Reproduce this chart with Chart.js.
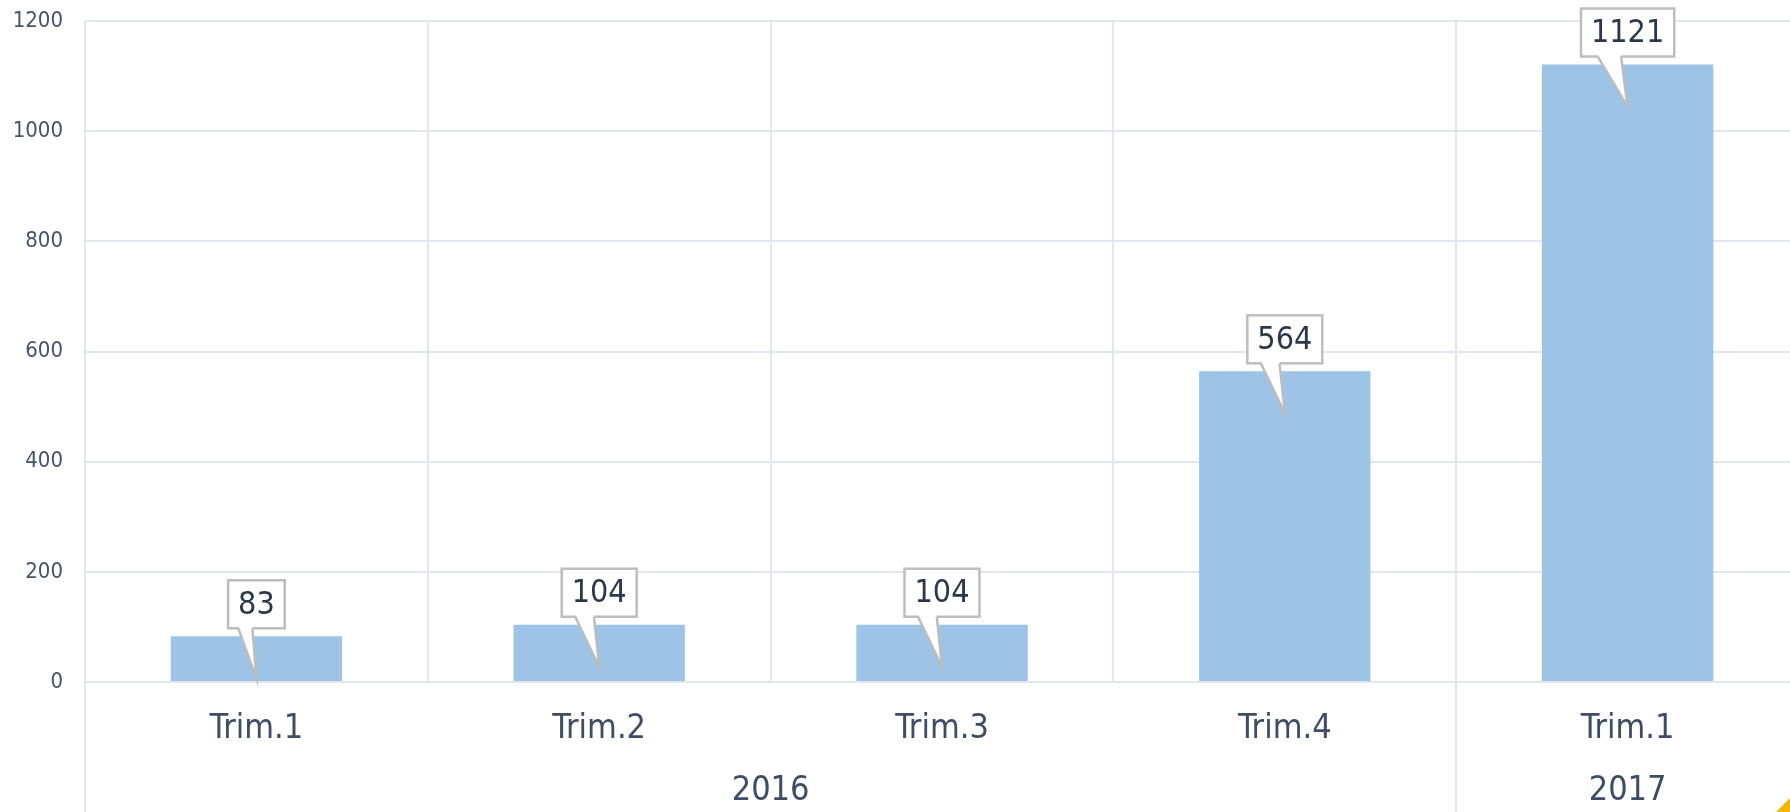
<!DOCTYPE html>
<html>
<head>
<meta charset="utf-8">
<script src="https://cdn.jsdelivr.net/npm/chart.js@4.4.0/dist/chart.umd.min.js"></script>
<style>
  html, body { margin: 0; padding: 0; background: #fff; overflow: hidden; }
  #wrap { position: relative; width: 1790px; height: 812px; overflow: hidden; }
  #chart { position: absolute; left: 0; top: 0; }
  .corner { position: absolute; right: 0; bottom: 0; width: 14px; height: 14px; background: #F2B705;
            clip-path: polygon(100% 0, 100% 100%, 0 100%); }
</style>
</head>
<body>
<div id="wrap">
  <canvas id="chart" width="1800" height="812"></canvas>
  <div class="corner"></div>
</div>
<script>
// quarters and values
const quarters = ["Trim.1", "Trim.2", "Trim.3", "Trim.4", "Trim.1"];
const values = [83, 104, 104, 564, 1121];
// year groups under the quarters
const years = ["2016", "2017"];
const yearSpans = [4, 1];
const yTicks = [0, 200, 400, 600, 800, 1000, 1200];

const FONT = "'DejaVu Sans Condensed', 'DejaVu Sans', sans-serif";
const gridColor = "#E1E6EE";
const textColor = "#3E4D64";

// draws the callouts, the year row and the long separators
const extras = {
  id: "extras",
  afterDatasetsDraw(chart) {
    const ctx = chart.ctx;
    const meta = chart.getDatasetMeta(0);
    ctx.save();
    ctx.font = "32px " + FONT;
    meta.data.forEach((bar, i) => {
      const text = String(values[i]);
      const tw = ctx.measureText(text).width;
      const w = tw + 20, h = 48;
      const left = bar.x - w / 2;
      const bottom = bar.y - 8;
      const top = bottom - h;
      const b0 = left + w * 0.18, b1 = left + w * 0.43;
      const tipY = bar.y + 42;

      ctx.fillStyle = "#fff";
      ctx.strokeStyle = "#BDBDBD";
      ctx.lineWidth = 2.5;
      ctx.fillRect(left, top, w, h);
      ctx.strokeRect(left, top, w, h);

      ctx.beginPath();
      ctx.moveTo(b0, bottom - 2);
      ctx.lineTo(bar.x, tipY);
      ctx.lineTo(b1, bottom - 2);
      ctx.closePath();
      ctx.fill();
      ctx.beginPath();
      ctx.moveTo(b0, bottom);
      ctx.lineTo(bar.x, tipY);
      ctx.lineTo(b1, bottom);
      ctx.stroke();

      ctx.fillStyle = "#2B374B";
      ctx.textAlign = "center";
      ctx.textBaseline = "middle";
      ctx.fillText(text, bar.x, top + h / 2 + 1);
    });
    ctx.restore();
  },
  afterDraw(chart) {
    const ctx = chart.ctx;
    const xs = chart.scales.x;
    const area = chart.chartArea;
    ctx.save();
    ctx.strokeStyle = gridColor;
    ctx.lineWidth = 2;
    ctx.font = "34px " + FONT;
    ctx.fillStyle = textColor;
    ctx.textAlign = "center";
    ctx.textBaseline = "middle";
    const half = (xs.getPixelForValue(1) - xs.getPixelForValue(0)) / 2;
    let start = 0;
    const edges = [xs.getPixelForValue(0) - half];
    years.forEach((y, k) => {
      const end = start + yearSpans[k] - 1;
      const cx = (xs.getPixelForValue(start) + xs.getPixelForValue(end)) / 2;
      ctx.fillText(y, cx, 791);
      edges.push(xs.getPixelForValue(end) + half);
      start = end + 1;
    });
    edges.slice(0, -1).forEach(x => {
      const px = Math.round(x);
      ctx.beginPath();
      ctx.moveTo(px, area.bottom);
      ctx.lineTo(px, chart.height);
      ctx.stroke();
    });
    ctx.restore();
  }
};

new Chart(document.getElementById("chart"), {
  type: "bar",
  data: {
    labels: quarters,
    datasets: [{
      data: values,
      backgroundColor: "#9DC3E6",
      barPercentage: 1,
      categoryPercentage: 0.5
    }]
  },
  options: {
    responsive: false,
    animation: false,
    devicePixelRatio: 1,
    layout: { padding: { top: 21, right: 1, left: 0, bottom: 0 } },
    plugins: { legend: { display: false }, tooltip: { enabled: false } },
    scales: {
      x: {
        offset: true,
        grid: { offset: true, color: gridColor, lineWidth: 2, drawTicks: false },
        border: { display: false },
        ticks: { color: textColor, font: { family: FONT, size: 34 }, padding: 27, maxRotation: 0, autoSkip: false },
        afterFit: s => { s.height = 130; }
      },
      y: {
        min: 0,
        max: 1200,
        afterBuildTicks: s => { s.ticks = yTicks.map(v => ({ value: v })); },
        grid: { color: gridColor, lineWidth: 2, drawTicks: false },
        border: { display: false },
        ticks: { color: "#46536A", font: { family: FONT, size: 22 }, padding: 22, callback: v => String(v) },
        afterFit: s => { s.width = 85; s.paddingTop = 13; s.paddingBottom = 13; }
      }
    }
  },
  plugins: [extras]
});
</script>
</body>
</html>
